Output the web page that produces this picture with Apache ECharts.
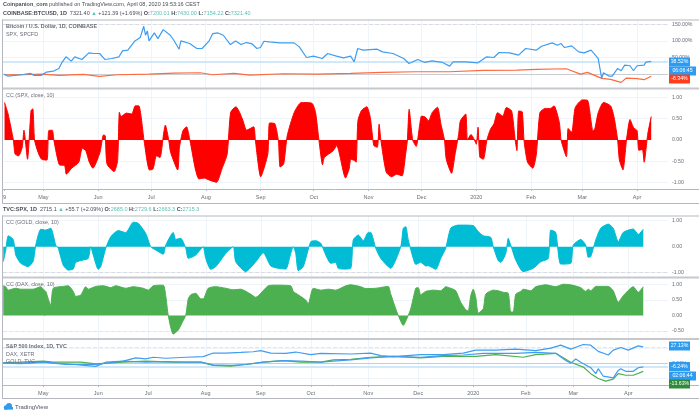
<!DOCTYPE html>
<html><head><meta charset="utf-8">
<style>html,body{margin:0;padding:0;background:#fff}#c{width:700px;height:415px}</style>
<script src="https://cdn.jsdelivr.net/npm/echarts@6/dist/echarts.min.js"></script>
</head><body><div id="c"></div>
<script>
// --- axis tick data ---
const calendarTicks = [-22,0,31,61,92,123,153,184,214,245,276,305,336];
const calendarLabels = ['9','May','Jun','Jul','Aug','Sep','Oct','Nov','Dec','2020','Feb','Mar','Apr'];
const sessionTicks = [0,22,42,65,87,107,130,150,172,193,212,234];
const sessionLabels = ['May','Jun','Jul','Aug','Sep','Oct','Nov','Dec','2020','Feb','Mar','Apr'];

// --- top chart: days since 1 May 2019 ---
const btcDays = [-22,-20,-16,-12,-7,-5,-1,2,6,9,11,13,16,18,22,26,29,32,35,39,43,45,48,52,55,57,58,59,60,63,65,68,69,72,74,75,77,78,83,87,90,94,96,99,102,106,109,112,115,118,121,123,125,128,134,142,145,149,153,158,161,166,170,174,
 176,178,181,189,192,198,204,207,212,216,220,226,230,232,239,246,251,255,258,264,269,273,279,282,288,291,293,295,299,303,306,310,314,315,316,317,320,322,325,327,329,332,334,336,340,341,344];
const btcPct = [0,-6,-4,-2,2,-4,-4,6,9,17,37,52,39,52,44,64,62,62,44,47,52,70,72,100,110,144,117,130,100,124,107,134,135,117,102,104,75,100,92,77,77,100,122,124,117,89,100,89,95,92,77,80,99,97,94,94,82,50,54,47,62,54,49,54,
 37,77,72,75,67,62,47,32,44,35,40,35,24,37,37,34,52,50,65,64,57,77,72,84,94,87,92,80,85,67,64,72,47,47,-13,4,-6,-6,17,10,27,25,10,25,27,36,38.52];
const spxDays = [-22,-13,0,9,23,32,42,60,74,89,96,108,117,136,155,174,192,211,230,249,268,279,296,304,308,316,321,327,330,336,340,344];
const spxPct = [-2,-2,0,-4,-1,-7,-2,0,3,4,-2,2,-3,1,0,2,5,7,7,11,12,14,16,0,5,-13,-16,-25,-12,-14,-17,-6.34];
const ccSpxDays = [-22,-20,-17,-16,-14,-12,-11,-9,-7,-6,-5,-3,-1,2,3,5,6,9,12,13,16,20,22,24,26,28,32,34,35,36,40,42,43,44,47,50,52,54,57,60,62,64,66,68,69,71,72,76,77,79,81,83,86,88,91,94,98,101,104,106,109,111,113,115,119,120,123,127,128,131,133,134,136,138,142,146,152,154,156,158,159,164,166,171,173,
 174,176,177,178,180,183,185,187,189,190,191,194,197,200,203,205,206,207,209,211,213,214,216,218,220,223,225,227,228,231,233,235,236,239,240,242,244,245,246,247,249,251,253,255,257,260,262,265,267,268,269,271,272,274,277,279,281,284,287,289,292,293,296,297,299,301,305,308,311,312,314,317,321,323,325,326,328,330,332,334,336,337,339,340,342,344];
const ccSpx = [.88,.61,0,-.33,-.37,-.17,.23,-.45,.69,.73,0,-.29,-.45,-.47,.22,.23,-.02,-.58,-.6,-.8,-.66,-.52,-.19,-.25,-.52,-.66,-.29,.12,.1,-.56,-.74,-.48,.65,.55,.63,.61,.8,.8,-.02,-.7,-.68,-.37,-.41,.14,.35,-.02,-.29,-.7,-.17,.22,.31,-.02,-.68,-.91,-.89,-.94,-.99,-.68,-.33,.65,.78,.65,.45,.23,.31,-.02,-.86,-.33,.4,.38,-.02,-.63,-.56,.1,.65,.88,.86,.65,-.02,-.58,-.41,-.25,-.13,-.89,-.68,
 -.45,-.48,-.52,.45,.69,.78,.53,-.13,-.17,.37,0,-.75,-.86,-.8,-.84,-.33,0,.72,0,-.15,.37,.56,.54,.45,.64,.77,.37,0,-.45,-.78,-.33,.13,.45,.61,0,.13,0,-.1,.3,-.4,-.45,0,.25,.38,.64,.56,.76,.68,0,-.25,.68,.66,0,-.52,-.66,-.33,.64,.74,.74,.8,.41,0,-.39,.27,.18,.76,.94,.93,.22,.25,.64,.88,.8,.53,0,-.47,-.7,0,.48,.29,.22,-.24,-.22,-.52,.13,.55];

// --- bottom chart: trading sessions since 1 May 2019 ---
const ccGoldSessions = [-16,-15,-14,-12,-11,-9,-6,-4,-3,-1,1,3,5,6,8,10,12,13,16,18,19,20,22,23,25,27,30,33,36,38,41,43,45,48,49,52,53,55,57,58,60,61,63,64,65,67,69,73,76,77,81,85,88,91,94,97,99,100,101,102,104,107,109,111,113,115,117,118,120,123,
 124,126,128,130,131,133,135,138,139,143,144,145,146,148,149,151,153,154,157,159,161,163,166,168,172,174,176,179,180,182,183,185,186,187,189,192,196,199,202,203,205,207,211,212,215,217,218,219,221,223,226,228,230,232,236,238,240];
const ccGold = [-.58,-.13,.42,.28,-.32,-.64,-.77,-.55,.06,.67,.64,.71,.06,-.06,-.71,-.9,-.86,-.6,-.51,-.45,0,-.32,-.87,-.77,-.06,.38,.62,.54,.94,.9,.51,0,-.13,-.29,.06,.55,.28,.32,-.06,-.45,-.38,-.32,-.1,0,-.45,-.87,-.77,-.26,0,-.58,-.96,-.58,-.23,-.74,-.83,-.86,-.26,0,-.26,-.92,-.77,.19,.23,.13,-.32,-.64,-.6,-.83,-.86,-.83,
 .26,.45,.23,.55,.55,-.06,-.45,-.77,-.83,0,.71,.77,.26,-.45,-.68,-.6,-.74,-.73,-.87,-.45,-.06,.71,.83,.83,.81,.58,.42,.36,0,-.54,-.6,-.26,.32,.06,-.51,-.96,-.83,-.58,-.45,.64,.55,-.67,-.64,.06,.28,.06,-.41,-.38,.26,.71,.87,.71,.19,.55,.68,.47,.67];
const ccDaxSessions = [-16,-15,-14,-11,-9,-7,-4,-1,0,1,2,3,4,8,10,12,13,15,17,18,21,24,27,29,33,36,40,42,44,48,49,50,52,54,56,57,58,59,61,63,64,66,69,73,76,79,83,85,90,93,99,100,102,105,106,108,111,114,117,121,123,
 127,129,133,138,139,141,142,144,146,147,149,150,151,153,156,159,161,163,165,167,169,170,171,172,173,174,176,177,180,182,184,186,187,188,189,191,192,195,197,201,205,208,211,215,217,218,219,221,226,228,230,232,236,238,240];
const ccDax = [.95,.92,.81,.87,.84,.84,.84,.92,.84,.77,.53,.32,.87,.93,.95,.77,.61,.65,.92,.84,.93,.95,.89,.95,.87,.92,.87,.81,.95,.97,.63,0,-.6,-.47,-.16,0,.53,.66,.71,.53,.53,.87,.92,.87,.82,.84,.68,.58,.95,.97,.95,.77,.66,.49,.37,.87,.81,.84,.81,.95,.98,
 .92,.86,.87,.93,.68,.21,0,-.32,0,.21,.87,.89,.66,.77,.81,.79,.92,.87,.79,.42,.18,.14,.63,.84,.58,.07,.21,.68,.81,.79,.74,.71,.11,.11,.68,.77,.84,.79,.92,.98,.92,1.0,.98,.89,.77,.84,.79,.93,.93,.79,.42,.63,.92,.74,.92];
const sp500Sessions = [-16,-9,0,9,21,25,32,37,41,44,49,57,64,68,73,79,84,87,91,97,101,107,111,123,131,135,140,151,160,168,173,181,189,197,203,207,211,216,219,222,226,228,231,234,238,240];
const sp500Pct = [0,-1,1.6,-1,-5.4,1.6,3.3,8.7,7,9.8,8.2,9.8,10.9,16.8,16.8,17.9,19,20.7,16.8,16.3,18.5,14.1,16.3,15.2,16.8,12.5,10.9,14.1,14.1,16.8,21.7,21.7,23.4,20.7,25,29.9,23.4,31,29.9,19.6,13.6,21.7,26.1,21.7,28.8,27.13];
const daxSessions = [-16,-9,0,9,21,32,41,49,56,63,68,75,81,88,96,103,111,116,123,131,140,151,160,168,176,189,197,205,209,211,213,215,219,221,222,224,228,230,231,233,236,238,240];
const daxPct = [0,0,1.6,-2.2,-2.2,3.3,1.6,2.7,1.6,1.6,-2.7,-3.8,-2.2,1.6,4.3,3.3,1.6,3.3,5.4,8.7,11.4,9.8,12.5,13.6,16.3,16.3,17.9,16.3,4.3,0,7,1.6,-7.6,-17.4,-9.2,-21.7,-24.5,-12,-9.2,-13.6,-13.6,-7.6,-6.24];
const goldSessions = [-16,-9,0,4,11,15,21,32,41,52,63,68,75,81,88,96,103,111,116,123,131,140,151,160,173,181,192,197,205,211,216,219,222,225,228,230,233,236,240];
const goldPct = [1.1,1.6,3.3,1.6,1.6,1.6,-1.1,1.6,3.3,1.6,1.6,-3.8,-4.9,-2.2,1.6,4.3,1.6,1.6,5.4,6.5,9.8,11.4,8.7,11.4,11.4,14.1,9.8,14.1,16.3,1.6,-6.5,-17.4,-25.5,-29.9,-26.6,-17.4,-20.1,-20.1,-13.63];

const zip = (xs, ys) => xs.map((x, i) => [x, ys[i]]);
const FONT = '"Liberation Sans",Arial,sans-serif';
const GRID = '#eef4f9', TXT = '#6a6d78', FRAME = '#b4b7c0';

const panes = [
  {top:20,  h:67,  ymin:-39,   ymax:163,   ticks:[50,100,150], fmt:v=>v.toFixed(2)+'%', cal:true},
  {top:89,  h:100, ymin:-1.147,ymax:1.195, ticks:[-1,-.5,0,.5,1], fmt:v=>v.toFixed(2), cal:true, labels:true},
  {top:216, h:61,  ymin:-1.165,ymax:1.18,  ticks:[-1,0,1], fmt:v=>v.toFixed(2), cal:false},
  {top:279, h:59,  ymin:-.725, ymax:1.167, ticks:[-.5,0,.5,1], fmt:v=>v.toFixed(2), cal:false},
  {top:340, h:45,  ymin:-36.3, ymax:38.5,  ticks:[0], fmt:v=>v.toFixed(2)+'%', cal:false, labels:true}
];
const grid = panes.map(p => ({left:3, width:665, top:p.top, height:p.h}));
const xAxis = panes.map((p, i) => {
  const ticks = p.cal ? calendarTicks : sessionTicks;
  const names = p.cal ? calendarLabels : sessionLabels;
  return {type:'value', gridIndex:i,
    min:p.cal ? -22.6 : -16.1, max:p.cal ? 353.5 : 249.9,
    axisLine:{show:!!p.labels, onZero:false, lineStyle:{color:FRAME, width:1}},
    axisTick:{show:!!p.labels, length:2, customValues:ticks, lineStyle:{color:FRAME}},
    splitLine:{show:false},
    axisLabel:{show:!!p.labels, customValues:ticks, fontSize:5.5, fontFamily:FONT, color:TXT, margin:5, hideOverlap:false,
      formatter:v => names[ticks.indexOf(v)] || ''}
  };
});
const yAxis = panes.map((p, i) => ({type:'value', gridIndex:i, position:'right', min:p.ymin, max:p.ymax,
  axisLine:{show:true, lineStyle:{color:FRAME, width:1}},
  axisTick:{show:true, length:2, customValues:p.ticks, lineStyle:{color:FRAME}},
  splitLine:{show:false},
  axisLabel:{customValues:p.ticks, fontSize:5.2, fontFamily:FONT, color:TXT, margin:4, formatter:p.fmt, hideOverlap:false}
}));

// faint gridlines drawn behind the data
const guide = (i, cal, hs) => ({type:'line', xAxisIndex:i, yAxisIndex:i, data:[], silent:true, z:1,
  markLine:{silent:true, z:1, symbol:'none', animation:false, label:{show:false},
    lineStyle:{color:GRID, width:1, type:'solid'},
    data:(cal ? calendarTicks.slice(1) : sessionTicks).map(v => ({xAxis:v})).concat(hs.map(v => ({yAxis:v})))}});
const hline = (i, v, color, width, type) => ({type:'line', xAxisIndex:i, yAxisIndex:i, data:[], silent:true, z:1,
  markLine:{silent:true, z:1, symbol:'none', animation:false, label:{show:false}, lineStyle:{color, width, type}, data:[{yAxis:v}]}});
const line = (i, data, color, width) => ({type:'line', xAxisIndex:i, yAxisIndex:i, data, showSymbol:false, symbol:'none', z:3,
  lineStyle:{color, width:width||1.2}, itemStyle:{color}, animation:false});
const area = (i, data, color) => ({type:'line', xAxisIndex:i, yAxisIndex:i, data, showSymbol:false, symbol:'none', z:3, smooth:0.2,
  lineStyle:{color, width:1}, itemStyle:{color}, areaStyle:{color, opacity:1, origin:0}, animation:false});

const series = [
  guide(0,true,[50,100,150]), guide(1,true,[-1,-.5,.5,1]), guide(2,false,[-1,1]), guide(3,false,[.5,1,-.5]), guide(4,false,[-25,25]),
  hline(0,150,'#d9dbe0',1,'dashed'), hline(0,0,'#c9ccd3',1,'solid'), hline(0,38.52,'#cfe9fb',2,'solid'),
  hline(2,-1,'#d9dbe0',1,'dashed'), hline(3,-.5,'#e3e5e9',1,'dashed'),
  hline(4,0,'#c9ccd3',1,'solid'), hline(4,-6.24,'#cfe9fb',2,'solid'), hline(4,27.13,'#e3e5e9',1,'dashed'),
  line(0,zip(spxDays,spxPct),'#ff6a3d'),
  line(0,zip(btcDays,btcPct),'#3f9df0'),
  area(1,zip(ccSpxDays,ccSpx),'#ff0000'),
  area(2,zip(ccGoldSessions,ccGold),'#00bcd4'),
  area(3,zip(ccDaxSessions,ccDax),'#4caf50'),
  line(4,zip(goldSessions,goldPct),'#4caf50'),
  line(4,zip(daxSessions,daxPct),'#3f9df0'),
  line(4,zip(sp500Sessions,sp500Pct),'#3f9df0')
];

const txt = (x, y, text, opt) => ({type:'text', x, y, z:20, silent:true,
  style:Object.assign({text, fontSize:5.4, fontFamily:FONT, fill:TXT, verticalAlign:'middle'}, opt||{})});
const tag = (y, w, text, fill) => [
  {type:'rect', x:669, y:y-4.5, z:18, silent:true, shape:{width:w, height:9}, style:{fill}},
  txt(669+w/2, y, text, {fill:'#fff', align:'center', fontSize:5.2})
];
const rect = (x, y, w, h, fill) => ({type:'rect', x, y, z:15, silent:true, shape:{width:w, height:h}, style:{fill}});

const rich = {
  b:{fontSize:5.5, fontWeight:'bold', fontFamily:FONT, fill:'#4a4d57'},
  k:{fontSize:5.5, fontFamily:FONT, fill:'#4a4d57'},
  t:{fontSize:5.5, fontFamily:FONT, fill:'#5cbfb5'}
};
const graphic = [
  txt(3,4.5,'{b|Coinpanion_com} {k|published on TradingView.com, April 08, 2020 19:53:16 CEST}',{rich}),
  txt(3,13,'{b|COINBASE:BTCUSD, 1D}  {k|7321.40} {t|▲} {k|+121.39 (+1.69%)} {b|O:}{t|7200.01} {b|H:}{t|7430.00} {b|L:}{t|7154.22} {b|C:}{t|7321.40}',{rich}),
  txt(3,209.5,'{b|TVC:SPX, 1D}  {k|2715.1} {t|▲} {k|+55.7 (+2.09%)} {b|O:}{t|2685.0} {b|H:}{t|2729.6} {b|L:}{t|2663.3} {b|C:}{t|2715.3}',{rich}),
  // frames and pane separators
  rect(2,19.5,697,1,FRAME), rect(2,19.5,1,184,FRAME), rect(2,203,697,1,FRAME),
  rect(3,87.5,696,2,'#c6c8ce'),
  rect(2,215.5,697,1,FRAME), rect(2,215.5,1,183,FRAME), rect(2,398,697,1,FRAME),
  rect(3,276.5,696,2,'#c6c8ce'), rect(3,338,696,2,'#c6c8ce'),
  rect(668,189,31,1,FRAME), rect(668,385,31,1,FRAME),
  // pane captions
  txt(6,27,'Bitcoin / U.S. Dollar, 1D, COINBASE',{fontWeight:'bold'}),
  txt(6,35,'SPX, SPCFD'),
  txt(6,96,'CC (SPX, close, 10)'),
  txt(6,223,'CC (GOLD, close, 10)'),
  txt(6,285,'CC (DAX, close, 10)'),
  txt(6,346.5,'S&P 500 Index, 1D, TVC',{fontWeight:'bold'}),
  txt(6,354.5,'DAX, XETR'),
  txt(6,361.5,'GOLD, TVC'),
  // price tags
  ...tag(62,21,'38.52%','#2d9cf0'), ...tag(71,27,'06:06:45','#2d9cf0'), ...tag(79,21,'-6.34%','#ff3d1f'),
  ...tag(346,21,'27.13%','#2d9cf0'), ...tag(366.5,21,'-6.24%','#2d9cf0'), ...tag(376,27,'02:06:44','#2d9cf0'), ...tag(384,21,'-13.63%','#2e8b3a'),
  // TradingView mark
  {type:'circle', x:6, y:407.5, z:20, silent:true, shape:{r:2.2}, style:{fill:'#2d9cf0'}},
  {type:'circle', x:9, y:406, z:20, silent:true, shape:{r:3}, style:{fill:'#2d9cf0'}},
  {type:'rect', x:4, y:407, z:20, silent:true, shape:{width:9, height:2.6}, style:{fill:'#2d9cf0'}},
  txt(15,407,'TradingView',{fontSize:6,fill:'#50535e'})
];

const chart = echarts.init(document.getElementById('c'), null, {renderer:'canvas'});
chart.setOption({animation:false, backgroundColor:'#fff', grid, xAxis, yAxis, series, graphic});
</script></body></html>
